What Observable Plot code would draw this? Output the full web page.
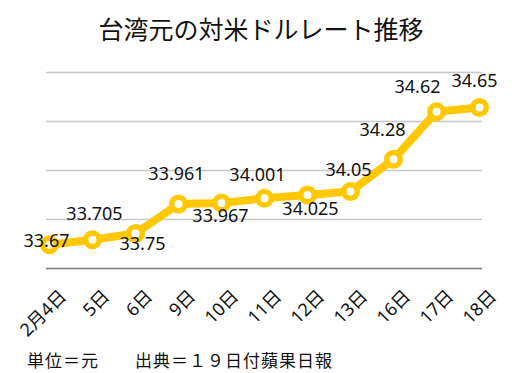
<!DOCTYPE html>
<html>
<head>
<meta charset="utf-8">
<script src="https://cdn.jsdelivr.net/npm/d3@7"></script>
<script src="https://cdn.jsdelivr.net/npm/@observablehq/plot@0.6"></script>
<style>
  body { margin: 0; background: #fff; font-family: "Noto Sans", "Noto Sans CJK JP", sans-serif; }
  #wrap { width: 516px; height: 373px; overflow: hidden; }
  #title { height: 56px; box-sizing: border-box; padding-top: 16px; font-size: 25px; line-height: 25px; text-align: center; padding-left: 6px; font-family: "Noto Sans CJK JP", sans-serif; color: #111; }
  #caption { height: 27px; box-sizing: border-box; padding-left: 27px; font-size: 17px; line-height: 28px; letter-spacing: 1px; font-family: "Noto Sans CJK JP", sans-serif; color: #111; }
  svg { display: block; }
</style>
</head>
<body>
<div id="wrap">
  <div id="title">台湾元の対米ドルレート推移</div>
  <div id="chart"></div>
  <div id="caption">単位＝元　　出典＝１９日付蘋果日報</div>
</div>
<script>
const dates = ["2月4日", "5日", "6日", "9日", "10日", "11日", "12日", "13日", "16日", "17日", "18日"];
const rates = [33.67, 33.705, 33.75, 33.961, 33.967, 34.001, 34.025, 34.05, 34.28, 34.62, 34.65];
const rateLabels = ["33.67", "33.705", "33.75", "33.961", "33.967", "34.001", "34.025", "34.05", "34.28", "34.62", "34.65"];
const yTicks = [33.5, 33.85, 34.2, 34.55, 34.9];

const data = dates.map((d, i) => ({date: d, rate: rates[i], label: rateLabels[i]}));

// label offsets (layout only)
const offs = [[-3,-3],[2,-26],[7,11],[-2,-30],[-1,13],[-7,-23],[3,14],[-2,-21],[-11,-29],[-19,-24],[-5,-26]];

const yellow = "#FFC800";
const labelMarks = data.map((d, i) => Plot.text([d], {
  x: "date", y: "rate", text: "label",
  dx: offs[i][0], dy: offs[i][1],
  fontSize: 18, fill: "#111", lineAnchor: "middle", textAnchor: "middle"
}));

const chart = Plot.plot({
  width: 516,
  height: 290,
  marginLeft: 46,
  marginRight: 34,
  marginTop: 16,
  marginBottom: 78,
  style: {fontFamily: '"Noto Sans", "Noto Sans CJK JP", sans-serif', background: "#fff"},
  x: {type: "point", domain: dates, padding: 0, label: null, axis: null},
  y: {domain: [33.5, 34.9], label: null, axis: null},
  marks: [
    Plot.gridY(yTicks, {stroke: "#c8c8c8", strokeOpacity: 1, strokeWidth: 1.5}),
    Plot.ruleY([33.5], {stroke: "#808080", strokeWidth: 1.5}),
    Plot.text(dates, {x: d => d, text: d => d, frameAnchor: "bottom", rotate: -45,
      textAnchor: "end", lineAnchor: "middle", dx: 14, dy: 25, fontSize: 18, fill: "#111"}),
    Plot.line(data, {x: "date", y: "rate", stroke: yellow, strokeWidth: 8, strokeLinejoin: "round"}),
    Plot.dot(data, {x: "date", y: "rate", r: 6.75, fill: "#fff", stroke: yellow, strokeWidth: 5.5}),
    ...labelMarks
  ]
});
document.getElementById("chart").appendChild(chart);
</script>
</body>
</html>
